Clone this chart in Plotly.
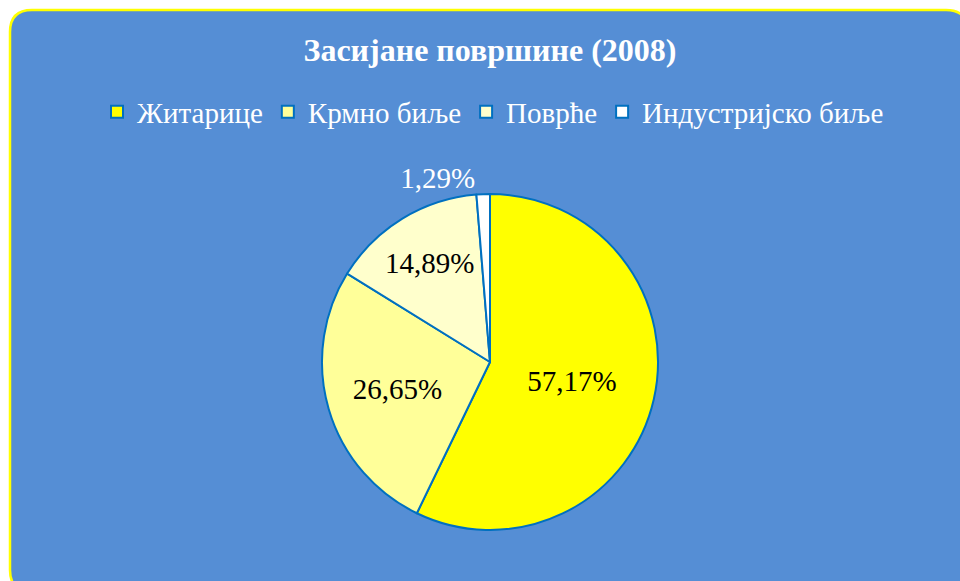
import plotly.graph_objects as go

labels = ["Житарице", "Крмно биље", "Поврће", "Индустријско биље"]
values = [57.17, 26.65, 14.89, 1.29]
colors = ["#FFFF00", "#FFFF99", "#FFFFCC", "#FFFFFF"]
positions = ["inside", "inside", "inside", "outside"]

W, H = 960, 581
BG = "#558ED5"
FONT = "Liberation Serif, Times New Roman, serif"


def px_x(x):
    return x / W


def px_y(y):
    return 1 - y / H


CX, CY, R = 490, 362, 168

fig = go.Figure()
fig.add_trace(go.Pie(
    labels=labels,
    values=values,
    sort=False,
    direction="clockwise",
    rotation=0,
    marker=dict(colors=colors, line=dict(color="#0070C0", width=2)),
    texttemplate="%{percent:.2%}",
    textposition=positions,
    insidetextorientation="horizontal",
    insidetextfont=dict(family=FONT, size=29, color="black"),
    outsidetextfont=dict(family=FONT, size=29, color="white"),
    hoverinfo="label+percent",
    domain=dict(x=[px_x(CX - R), px_x(CX + R)],
                y=[px_y(CY + R), px_y(CY - R)]),
))

# rounded background box
x0, x1 = px_x(10), px_x(968)
y0, y1 = px_y(592), px_y(10)
rx, ry = 22 / W, 22 / H
path = (f"M{x0+rx},{y1} L{x1-rx},{y1} Q{x1},{y1} {x1},{y1-ry} "
        f"L{x1},{y0+ry} Q{x1},{y0} {x1-rx},{y0} L{x0+rx},{y0} "
        f"Q{x0},{y0} {x0},{y0+ry} L{x0},{y1-ry} Q{x0},{y1} {x0+rx},{y1} Z")

fig.update_layout(
    width=W, height=H,
    margin=dict(l=0, r=0, t=0, b=0),
    paper_bgcolor="white",
    separators=", ",
    shapes=[dict(type="path", xref="paper", yref="paper", path=path,
                 fillcolor=BG, line=dict(color="#FFFF00", width=2.5), layer="below")],
    title=dict(text="<b>Засијане површине (2008)</b>", x=px_x(490), xanchor="center",
               y=px_y(50), yanchor="middle",
               font=dict(family=FONT, size=32, color="white")),
    legend=dict(orientation="h", x=px_x(493), xanchor="center", y=px_y(112), yanchor="middle",
                font=dict(family=FONT, size=29, color="white"), bgcolor="rgba(0,0,0,0)",
                itemwidth=30, traceorder="normal"),
    showlegend=True,
)

fig.write_html(
    "out.html",
    config={"displayModeBar": False},
    post_script="document.body.style.margin='0';document.body.style.overflow='hidden';",
)
